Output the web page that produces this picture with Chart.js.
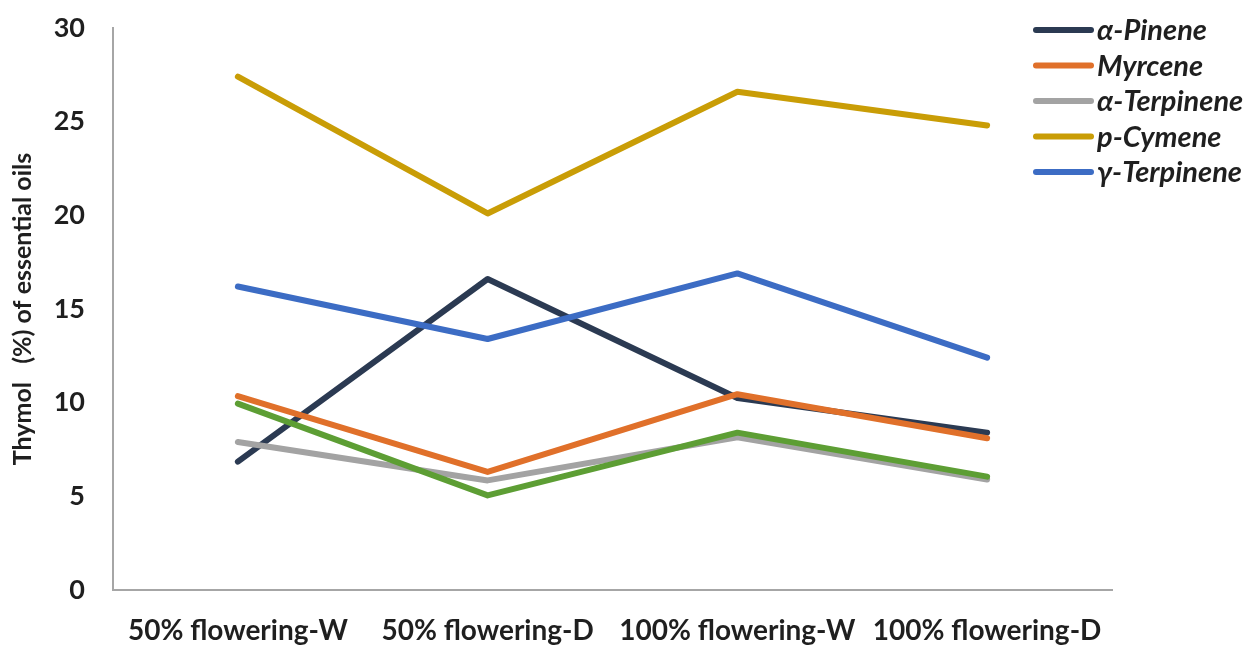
<!DOCTYPE html>
<html lang="en">
<head>
    <meta charset="UTF-8">
    <title>Essential oil components</title>
    <script src="https://cdn.jsdelivr.net/npm/chart.js"></script>
    <style>
        html, body { margin: 0; padding: 0; background: #fff; }
        #wrap { width: 1253px; height: 647px; position: relative; }
    </style>
</head>
<body>
    <div id="wrap">
        <canvas id="oilChart"></canvas>
    </div>

    <script>
        const categories = ['50% flowering-W', '50% flowering-D', '100% flowering-W', '100% flowering-D'];
        const alphaPinene = [6.85, 16.6, 10.25, 8.4];
        const myrcene = [10.35, 6.3, 10.45, 8.1];
        const alphaTerpinene = [7.9, 5.85, 8.15, 5.9];
        const pCymene = [27.4, 20.1, 26.6, 24.8];
        const gammaTerpinene = [16.2, 13.4, 16.9, 12.4];
        const thymol = [9.95, 5.05, 8.4, 6.05];
        const yTicks = [0, 5, 10, 15, 20, 25, 30];

        const seriesNames = ['α-Pinene', 'Myrcene', 'α-Terpinene', 'p-Cymene', 'γ-Terpinene', 'Thymol'];
        const seriesData = [alphaPinene, myrcene, alphaTerpinene, pCymene, gammaTerpinene, thymol];
        const seriesColors = ['#2b3a52', '#e0702a', '#a3a3a3', '#c99d06', '#3c6cc4', '#5d9e34'];
        const inLegend = [true, true, true, true, true, false];

        const datasets = seriesNames.map((name, i) => ({
            label: name,
            data: seriesData[i],
            borderColor: seriesColors[i],
            backgroundColor: seriesColors[i],
            borderWidth: 6,
            pointRadius: 0,
            pointHoverRadius: 0,
            tension: 0,
            borderCapStyle: 'round',
            borderJoinStyle: 'round',
            fill: false,
            // later series sit on top, like the original
            order: seriesNames.length - i
        }));

        // legend drawn by hand so it can overlap the plot area on the right
        const sideLegend = {
            id: 'sideLegend',
            afterDraw(chart) {
                const ctx = chart.ctx;
                let y = 30;
                ctx.save();
                ctx.font = 'italic bold 29px Lato';
                ctx.textBaseline = 'middle';
                ctx.textAlign = 'left';
                seriesNames.forEach((name, i) => {
                    if (!inLegend[i]) return;
                    ctx.strokeStyle = seriesColors[i];
                    ctx.lineWidth = 6;
                    ctx.lineCap = 'round';
                    ctx.beginPath();
                    ctx.moveTo(1036, y);
                    ctx.lineTo(1091, y);
                    ctx.stroke();
                    ctx.fillStyle = '#1f1f1f';
                    ctx.fillText(name, 1097, y + 1);
                    y += 35.5;
                });
                ctx.restore();
            }
        };

        new Chart(document.getElementById('oilChart').getContext('2d'), {
            type: 'line',
            data: { labels: categories, datasets: datasets },
            options: {
                responsive: true,
                maintainAspectRatio: false,
                animation: false,
                layout: { padding: { top: 28, right: 141, left: 0, bottom: 0 } },
                plugins: {
                    legend: { display: false },
                    tooltip: { enabled: false }
                },
                scales: {
                    x: {
                        offset: true,
                        grid: { display: false },
                        border: { display: true, color: '#a6a6a6', width: 2 },
                        ticks: {
                            autoSkip: false,
                            maxRotation: 0,
                            minRotation: 0,
                            color: '#1f1f1f',
                            font: { family: 'Lato', size: 28, weight: 'bold' },
                            padding: 16
                        },
                        afterFit(scale) {
                            scale.height = 57;
                            scale.paddingLeft = 0;
                            scale.paddingRight = 0;
                        }
                    },
                    y: {
                        min: 0,
                        max: 30,
                        afterBuildTicks(scale) { scale.ticks = yTicks.map(v => ({ value: v })); },
                        grid: { display: false },
                        border: { display: true, color: '#a6a6a6', width: 2 },
                        ticks: {
                            color: '#1f1f1f',
                            font: { family: 'Lato', size: 27, weight: 'bold' },
                            padding: 20
                        },
                        title: {
                            display: true,
                            text: 'Thymol   (%) of essential oils',
                            color: '#1f1f1f',
                            font: { family: 'Lato', size: 25, weight: 'bold' },
                            padding: { top: 8, bottom: 0 }
                        },
                        afterFit(scale) {
                            scale.width = 113;
                            scale.paddingTop = 0;
                            scale.paddingBottom = 0;
                        }
                    }
                }
            },
            plugins: [sideLegend]
        });
    </script>
</body>
</html>
